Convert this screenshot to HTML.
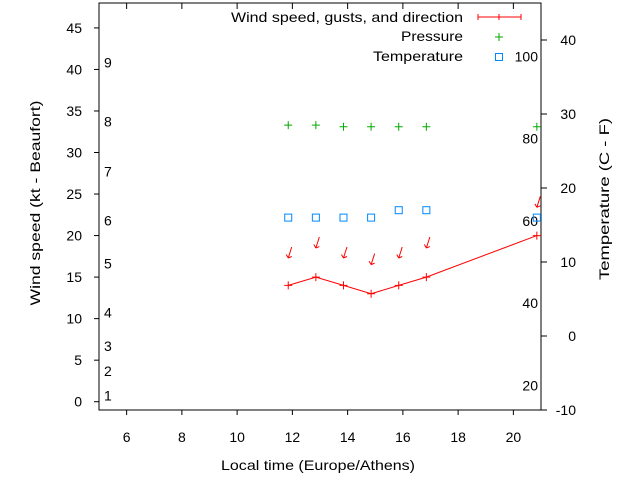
<!DOCTYPE html>
<html><head><meta charset="utf-8"><style>
body{margin:0;background:#fff}
svg{display:block;font-family:"Liberation Sans",sans-serif;font-size:14px}
</style></head><body>
<svg id="c" width="640" height="480"></svg>
<script>
const times=[11.85,12.85,13.85,14.85,15.85,16.85,20.85];
const windSpeed=[14,15,14,13,14,15,20];
const gustLevel=[17.3,18.5,17.3,16.5,17.3,18.5,23.4];
const pressure=[33.3,33.3,33.1,33.1,33.1,33.1,33.1];
const temperature=[16,16,16,16,17,17,16];
const xTicks=[6,8,10,12,14,16,18,20];
const yTicks=[0,5,10,15,20,25,30,35,40,45];
const y2Ticks=[-10,0,10,20,30,40];
const fLabels=[20,40,60,80,100];
const bft=[[1,0.6],[2,3.6],[3,6.6],[4,10.6],[5,16.5],[6,21.7],[7,27.6],[8,33.6],[9,40.7]];
const L=99,R=541,T=3,B=410;
const X=v=>L+(v-5)/16*(R-L);
const Y=v=>B-(v+1)/49*(B-T);
const Y2=v=>B-(v+10)/55*(B-T);
const svg=document.getElementById('c');
const NS='http://www.w3.org/2000/svg';
function mk(tag,a,txt){const e=document.createElementNS(NS,tag);for(const k in a)e.setAttribute(k,a[k]);if(txt!==undefined)e.textContent=txt;svg.appendChild(e);return e;}
let e;
e=mk('rect',{x:L,y:T,width:R-L,height:B-T,fill:'none',stroke:'#000','stroke-width':1});


xTicks.forEach(t=>{
 e=mk('line',{x1:X(t),x2:X(t),y1:B,y2:B+5,stroke:'#000'});
 
 
 e=mk('line',{x1:X(t),x2:X(t),y1:T,y2:T+6,stroke:'#000'});
 
 
 e=mk('text',{x:X(t),y:442,'text-anchor':'middle'},t);
 
 
});
yTicks.forEach(t=>{
 e=mk('line',{x1:L-5,x2:L,y1:Y(t),y2:Y(t),stroke:'#000'});
 
 
 e=mk('text',{x:82,y:Y(t)+5,'text-anchor':'end'},t);
 
 
});
y2Ticks.forEach(t=>{
 e=mk('line',{x1:R,x2:R+6,y1:Y2(t),y2:Y2(t),stroke:'#000'});
 
 
 e=mk('text',{x:576,y:Y2(t)+5,'text-anchor':'end'},t);
 
 
});
fLabels.forEach(f=>{
 e=mk('text',{x:538,y:Y2((f-32)*5/9)+5,'text-anchor':'end'},f);
 
 
});
bft.forEach(b=>{
 e=mk('text',{x:104,y:Y(b[1])+4},b[0]);
 
 
});
e=mk('text',{x:318,y:470,'text-anchor':'middle',textLength:194,lengthAdjust:'spacingAndGlyphs'},'Local time (Europe/Athens)');


e=mk('text',{x:0,y:0,'text-anchor':'middle',textLength:205,lengthAdjust:'spacingAndGlyphs',transform:'translate(40,203) rotate(-90)'},'Wind speed (kt - Beaufort)');


e=mk('text',{x:0,y:0,'text-anchor':'middle',textLength:162,lengthAdjust:'spacingAndGlyphs',transform:'translate(609,199) rotate(-90)'},'Temperature (C - F)');


e=mk('polyline',{points:times.map((t,i)=>X(t)+','+Y(windSpeed[i])).join(' '),fill:'none',stroke:'#f00'});


times.forEach((t,i)=>{
 const x=X(t),y=Y(windSpeed[i]);
 e=mk('path',{d:`M${x-4},${y}h8M${x},${y-4}v8`,stroke:'#f00'});
 
 
 const gx=X(t),gy=Y(gustLevel[i]);
 e=mk('path',{d:`M${gx+3.5},${gy-11}L${gx},${gy}M${gx},${gy}l-2,-3.5M${gx},${gy}l3.5,-1.5`,stroke:'#f00',fill:'none','stroke-width':1});
 
 
 const px=X(t),py=Y(pressure[i]);
 e=mk('path',{d:`M${px-4},${py}h8M${px},${py-4}v8`,stroke:'#0a0'});
 
 
 e=mk('rect',{x:X(t)-3.5,y:Y2(temperature[i])-3.5,width:7,height:7,fill:'none',stroke:'#08f'});
 
 
});
e=mk('text',{x:463,y:22,'text-anchor':'end',textLength:232,lengthAdjust:'spacingAndGlyphs'},'Wind speed, gusts, and direction');


e=mk('path',{d:'M478,17h43M478,14v6M521,14v6M499,14v6',stroke:'#f00'});


e=mk('text',{x:463,y:41,'text-anchor':'end',textLength:62,lengthAdjust:'spacingAndGlyphs'},'Pressure');


e=mk('path',{d:'M495,37h8M499,33v8',stroke:'#0a0'});


e=mk('text',{x:463,y:61,'text-anchor':'end',textLength:90,lengthAdjust:'spacingAndGlyphs'},'Temperature');


e=mk('rect',{x:495.5,y:53.5,width:7,height:7,fill:'none',stroke:'#08f'});


</script>
</body></html>
